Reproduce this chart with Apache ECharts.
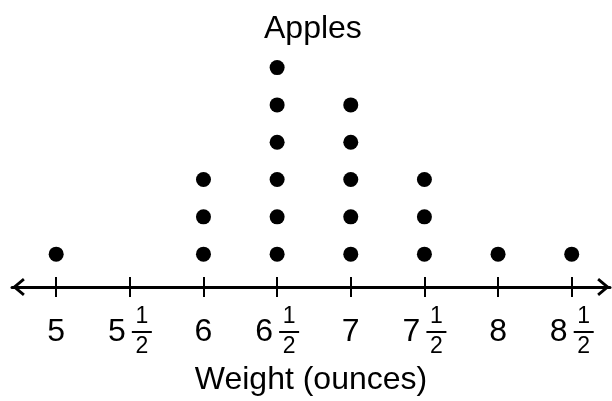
<!DOCTYPE html>
<html>
<head>
<meta charset="utf-8">
<title>Apples</title>
<script src="https://cdn.jsdelivr.net/npm/echarts@6/dist/echarts.min.js"></script>
<style>
  html, body { margin: 0; padding: 0; background: #fff; }
  #chart { width: 612px; height: 401px; }
</style>
</head>
<body>
<div id="chart"></div>
<script>
// data
const chartTitle = "Apples";
const axisTitle = "Weight (ounces)";
const weights = [5, 5.5, 6, 6.5, 7, 7.5, 8, 8.5];
const counts = [1, 0, 3, 6, 5, 3, 1, 1];
const tickWhole = ["5", "5", "6", "6", "7", "7", "8", "8"];
const tickFrac = ["", "1/2", "", "1/2", "", "1/2", "", "1/2"];

const font = "Liberation Sans, Arial, sans-serif";

// one point per dot, stacked up from 1
const dots = [];
weights.forEach(function (w, i) {
  for (let k = 1; k <= counts[i]; k++) {
    dots.push([w, k]);
  }
});

function tickLabel(value) {
  const i = weights.findIndex(function (w) { return Math.abs(w - value) < 1e-6; });
  if (i < 0) return "";
  if (!tickFrac[i]) return "{w|" + tickWhole[i] + "}";
  const parts = tickFrac[i].split("/");
  return "{sp|}{n|" + parts[0] + "}\n{w|" + tickWhole[i] + "}{g|}{b|}\n{sp|}{n|" + parts[1] + "}";
}

// open chevron pointing up, axis rotates it
const arrow = "path://M0,12 L10,0 L20,12 L17.4,14 L10,5 L2.6,14 Z";

const chart = echarts.init(document.getElementById("chart"));
chart.setOption({
  animation: false,
  backgroundColor: "#fff",
  title: {
    text: chartTitle,
    left: 264,
    top: 13,
    padding: 0,
    textStyle: { fontFamily: font, fontSize: 32, fontWeight: "normal", color: "#000" },
  },
  grid: { left: 12, right: 2, top: 30.3, bottom: 108, containLabel: false },
  xAxis: [
    {
      type: "value",
      min: 4.7,
      max: 8.76,
      position: "bottom",
      name: axisTitle,
      nameLocation: "middle",
      nameGap: 93,
      nameTextStyle: { fontFamily: font, fontSize: 32, color: "#000", verticalAlign: "middle" },
      splitLine: { show: false },
      axisLine: {
        onZero: false,
        symbol: [arrow, arrow],
        symbolSize: [18, 13],
        symbolOffset: [6.5, -6.5],
        lineStyle: { color: "#000", width: 3 },
      },
      axisTick: {
        customValues: weights,
        length: 10,
        lineStyle: { color: "#000", width: 2 },
      },
      axisLabel: {
        customValues: weights,
        margin: 45,
        verticalAlign: "middle",
        formatter: tickLabel,
        rich: {
          w: { fontFamily: font, fontSize: 32, color: "#000", width: 18, lineHeight: 10, align: "center" },
          g: { width: 6, lineHeight: 10, align: "center" },
          b: { width: 20, height: 2, lineHeight: 10, backgroundColor: "#000", align: "center" },
          sp: { width: 24, lineHeight: 20, align: "center" },
          n: { fontFamily: font, fontSize: 23, color: "#000", width: 20, lineHeight: 20, align: "center" },
        },
      },
    },
    {
      type: "value",
      min: 4.7,
      max: 8.76,
      position: "bottom",
      splitLine: { show: false },
      axisLine: { show: false },
      axisLabel: { show: false },
      axisTick: {
        customValues: weights,
        inside: true,
        length: 10,
        lineStyle: { color: "#000", width: 2 },
      },
    },
  ],
  yAxis: {
    type: "value",
    min: 0.12,
    max: 7,
    show: false,
  },
  series: [
    {
      type: "scatter",
      data: dots,
      symbol: "circle",
      symbolSize: 15,
      itemStyle: { color: "#000", opacity: 1 },
      emphasis: { disabled: true },
    },
  ],
});
</script>
</body>
</html>
